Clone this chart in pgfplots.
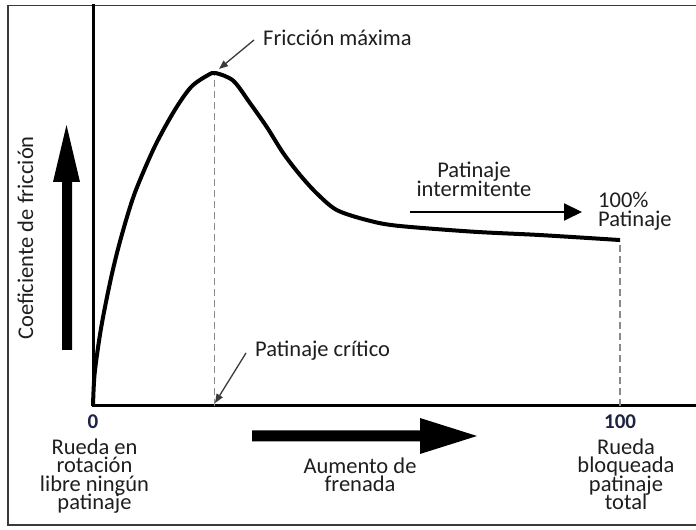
\documentclass[border=0pt]{standalone}
\usepackage{fontspec}
\setmainfont{Carlito}
\usepackage{pgfplots}
\pgfplotsset{compat=1.18}
\usetikzlibrary{arrows.meta}
\definecolor{txt}{HTML}{1E1E1E}
\definecolor{tickc}{HTML}{1E2346}
\definecolor{dashc}{HTML}{8A8A8A}
\definecolor{framec}{HTML}{3A3A3A}

\begin{document}
\begin{tikzpicture}[x=1bp,y=1bp, font=\fontsize{22.5bp}{27bp}\selectfont, text=txt,
  lbl/.style={inner sep=0pt, text height=12.5bp, text depth=4bp}]
\useasboundingbox (0,0) rectangle (696,530);
\draw[framec, line width=1.8bp] (700,524.5) -- (8,524.5) -- (8,5) -- (700,5);
\begin{axis}[
  at={(93bp,124bp)}, anchor=south west, scale only axis,
  width=603bp, height=400bp,
  xmin=0, xmax=114.4, ymin=0, ymax=1.198,
  axis x line=bottom, axis y line=left,
  axis line style={line width=3bp, -, line cap=rect, black},
  every outer x axis line/.append style={-},
  every outer y axis line/.append style={-},
  xtick={0,100}, xticklabels={$\mathbf{0}$,$\mathbf{100}$},
  ytick=\empty, major tick length=0pt,
  xticklabel style={font=\fontsize{21bp}{21bp}\selectfont, text=tickc, yshift=-5bp},
  clip=false,
]
\addplot[black, line width=4bp, smooth, tension=0.5, line join=round] coordinates {
(0,0) (0.32,0.099) (1.57,0.237) (3.47,0.387) (5.37,0.507) (7.91,0.637)
(11.71,0.777) (15.50,0.886) (18.65,0.956) (21.82,0.991) (23.3,0.997)
(26.62,0.974) (29.79,0.907) (32.95,0.836) (36.10,0.757) (39.27,0.692)
(42.44,0.637) (46.23,0.587) (51.93,0.557) (57.62,0.540) (72.09,0.522)
(84.80,0.512) (100,0.497)
};
\addplot[dashc, line width=1.3bp, dash pattern=on 7bp off 4bp] coordinates {(23.1,0) (23.1,0.99)};
\addplot[dashc, line width=1.3bp, dash pattern=on 7bp off 4bp] coordinates {(100,0) (100,0.49)};
\end{axis}

% annotations
\node[lbl, anchor=base west] at (263,484) {Fricción máxima};
\draw[framec, line width=1.3bp, -{Triangle[length=9bp,width=7bp]}] (254,490) -- (219,461);
\node[lbl, anchor=base west] at (255,173) {Patinaje crítico};
\draw[framec, line width=1.3bp, -{Triangle[length=9bp,width=7bp]}] (246,177) -- (215,127);
\node[lbl, anchor=base] at (474,352) {Patinaje};
\node[lbl, anchor=base] at (474,333) {intermitente};
\draw[black, line width=2bp, -{Triangle[length=18bp,width=17bp]}] (410,318) -- (582,318);
\node[lbl, anchor=base west] at (598,322) {100\%};
\node[lbl, anchor=base west] at (598,303) {Patinaje};

\node[lbl, anchor=base] at (94.5,75) {Rueda en};
\node[lbl, anchor=base] at (94.5,57) {rotación};
\node[lbl, anchor=base] at (94.5,38) {libre ningún};
\node[lbl, anchor=base] at (94.5,20) {patinaje};

\node[lbl, anchor=base] at (626,75) {Rueda};
\node[lbl, anchor=base] at (626,57) {bloqueada};
\node[lbl, anchor=base] at (626,38) {patinaje};
\node[lbl, anchor=base] at (626,20) {total};

\node[lbl, anchor=base] at (360,56) {Aumento de};
\node[lbl, anchor=base] at (360,38) {frenada};

\node[lbl, rotate=90, anchor=base] at (33,292) {Coeficiente de fricción};

% thick arrows
\fill[black] (62,180) -- (72,180) -- (72,348) -- (80,348) -- (66.5,405) -- (53,348) -- (62,348) -- cycle;
\fill[black] (252,88.5) -- (420,88.5) -- (420,76) -- (477,94) -- (420,112) -- (420,99.5) -- (252,99.5) -- cycle;
\end{tikzpicture}
\end{document}
